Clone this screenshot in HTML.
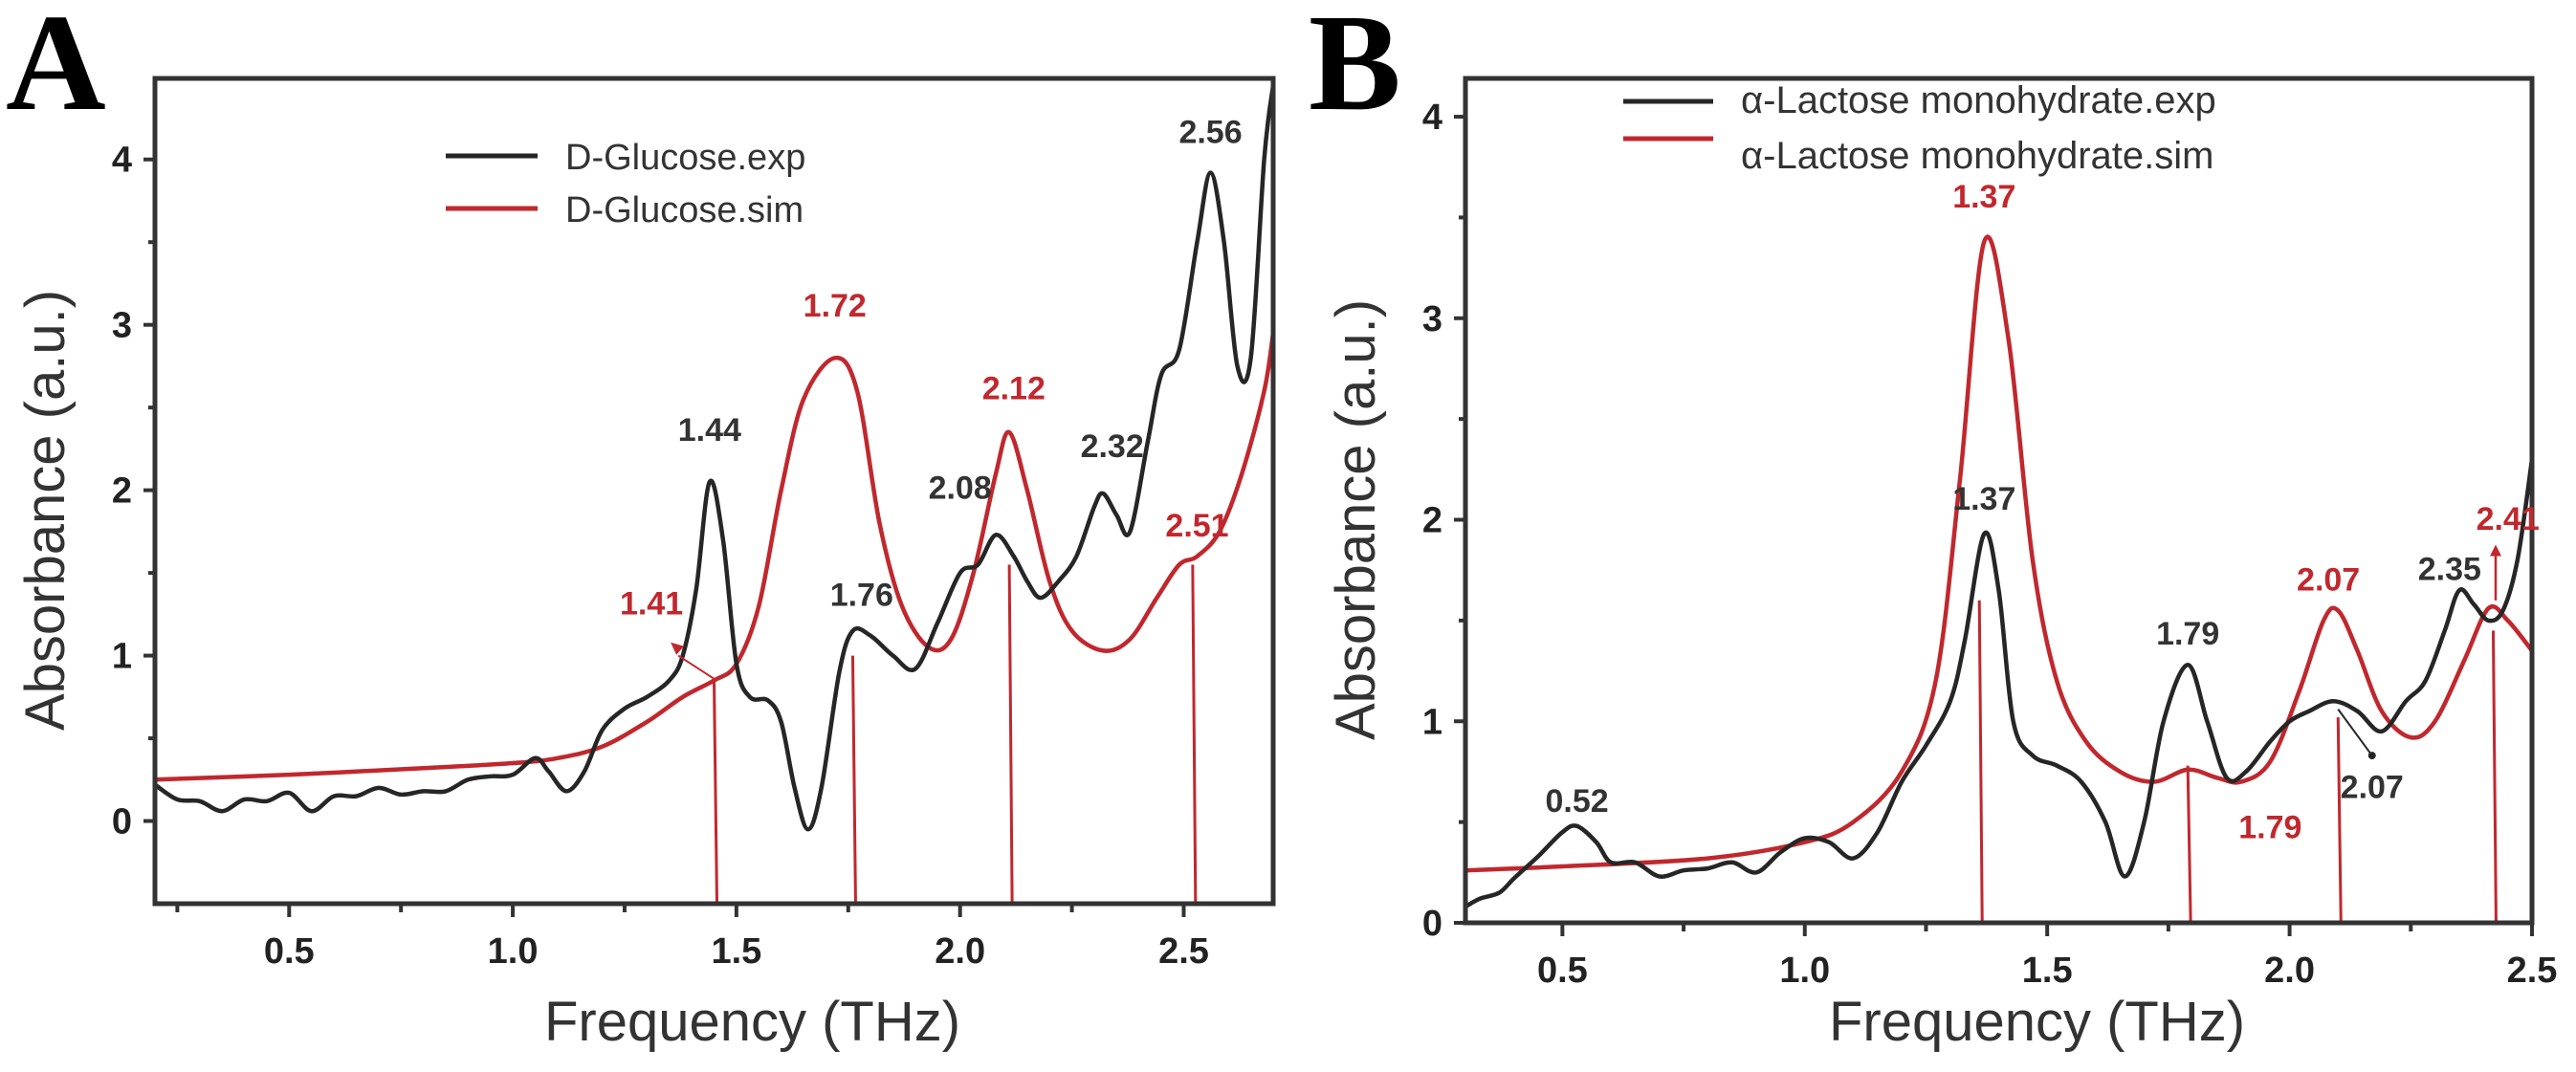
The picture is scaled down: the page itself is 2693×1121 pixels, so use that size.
<!DOCTYPE html>
<html><head><meta charset="utf-8"><style>
html,body{margin:0;padding:0;background:#fff;}
svg{display:block;}
text{font-family:"Liberation Sans",sans-serif;}
text.letter{font-family:"Liberation Serif",serif;}
</style></head><body>
<svg id="fig" width="2693" height="1121" viewBox="0 0 2693 1121" xmlns="http://www.w3.org/2000/svg"></svg>
<script>
// ---- Panel A data ----
const aExpX = [0.2,0.25,0.3,0.35,0.4,0.45,0.5,0.55,0.6,0.65,0.7,0.75,0.8,0.85,0.9,0.95,1.0,1.05,1.08,1.12,1.16,1.2,1.25,1.3,1.35,1.38,1.41,1.44,1.47,1.5,1.53,1.57,1.6,1.63,1.66,1.69,1.73,1.76,1.8,1.85,1.9,1.95,2.0,2.04,2.08,2.12,2.15,2.18,2.22,2.26,2.3,2.32,2.35,2.38,2.42,2.45,2.49,2.53,2.56,2.59,2.62,2.65,2.68,2.7];
const aExpY = [0.22,0.13,0.12,0.06,0.13,0.12,0.17,0.06,0.15,0.15,0.2,0.16,0.18,0.18,0.25,0.27,0.28,0.38,0.3,0.18,0.3,0.55,0.68,0.75,0.85,1.0,1.4,2.05,1.7,0.95,0.75,0.73,0.6,0.2,-0.05,0.2,0.9,1.15,1.12,1.0,0.92,1.2,1.5,1.55,1.73,1.6,1.45,1.35,1.45,1.6,1.9,1.98,1.85,1.75,2.3,2.7,2.85,3.5,3.92,3.5,2.75,2.8,4.0,4.45];
const aSimX = [0.2,0.5,0.8,1.0,1.1,1.2,1.3,1.38,1.45,1.5,1.55,1.6,1.65,1.72,1.77,1.82,1.87,1.93,1.98,2.03,2.08,2.11,2.15,2.2,2.25,2.32,2.38,2.44,2.49,2.53,2.58,2.63,2.68,2.7];
const aSimY = [0.25,0.28,0.32,0.35,0.38,0.45,0.6,0.75,0.85,0.95,1.3,2.0,2.55,2.8,2.6,1.8,1.3,1.05,1.1,1.5,2.1,2.35,2.0,1.45,1.15,1.03,1.1,1.35,1.55,1.6,1.75,2.1,2.6,2.95];
const aStickX = [1.45,1.76,2.11,2.52];
const aStickTop = [0.85,1.0,1.55,1.55];
const aBlackLabels = ["1.44","1.76","2.08","2.32","2.56"];
const aBlackLX = [1.44,1.78,2.0,2.34,2.56];
const aBlackLY = [2.3,1.3,1.95,2.2,4.1];
const aRedLabels = ["1.72","2.12","1.41","2.51"];
const aRedLX = [1.72,2.12,1.31,2.53];
const aRedLY = [3.05,2.55,1.25,1.72];
const aXTicks = ["0.5","1.0","1.5","2.0","2.5"];
const aYTicks = ["0","1","2","3","4"];
// ---- Panel B data ----
const bExpX = [0.3,0.33,0.37,0.4,0.45,0.5,0.53,0.57,0.6,0.65,0.7,0.75,0.8,0.85,0.9,0.95,1.0,1.05,1.1,1.15,1.2,1.25,1.3,1.33,1.37,1.4,1.43,1.47,1.52,1.57,1.62,1.66,1.7,1.74,1.79,1.83,1.87,1.91,1.96,2.0,2.04,2.09,2.14,2.19,2.24,2.28,2.32,2.35,2.38,2.41,2.44,2.47,2.5];
const bExpY = [0.08,0.12,0.15,0.22,0.33,0.45,0.48,0.4,0.3,0.3,0.23,0.26,0.27,0.3,0.25,0.35,0.42,0.4,0.32,0.45,0.7,0.88,1.1,1.4,1.93,1.65,1.0,0.83,0.78,0.7,0.5,0.23,0.5,1.0,1.28,1.0,0.72,0.75,0.9,1.0,1.05,1.1,1.05,0.95,1.1,1.2,1.45,1.65,1.58,1.5,1.55,1.8,2.3];
const bSimX = [0.3,0.5,0.8,1.0,1.1,1.2,1.27,1.32,1.37,1.42,1.47,1.52,1.58,1.65,1.72,1.79,1.85,1.9,1.96,2.02,2.07,2.1,2.14,2.19,2.25,2.3,2.36,2.41,2.45,2.5];
const bSimY = [0.26,0.28,0.32,0.4,0.5,0.75,1.2,2.2,3.38,2.9,1.8,1.2,0.9,0.75,0.7,0.76,0.72,0.7,0.8,1.15,1.5,1.55,1.35,1.05,0.92,1.0,1.3,1.56,1.5,1.35];
const bStickX = [1.36,1.79,2.1,2.42];
const bStickTop = [1.6,0.78,1.02,1.45];
const bBlackLabels = ["0.52","1.37","1.79","2.35","2.07"];
const bBlackLX = [0.53,1.37,1.79,2.33,2.17];
const bBlackLY = [0.55,2.05,1.38,1.7,0.62];
const bRedLabels = ["1.37","2.07","1.79","2.41"];
const bRedLX = [1.37,2.08,1.96,2.45];
const bRedLY = [3.55,1.65,0.42,1.95];
const bXTicks = ["0.5","1.0","1.5","2.0","2.5"];
const bYTicks = ["0","1","2","3","4"];

const NS = "http://www.w3.org/2000/svg";
const svg = document.getElementById("fig");
const BLACK = "#262626", RED = "#c0282e";
function el(tag, attrs, parent){const e=document.createElementNS(NS,tag);for(const k in attrs)e.setAttribute(k,attrs[k]);(parent||svg).appendChild(e);return e;}
function smooth(pts){let d="M"+pts[0][0].toFixed(1)+","+pts[0][1].toFixed(1);
  for(let i=0;i<pts.length-1;i++){const p0=pts[i-1]||pts[i],p1=pts[i],p2=pts[i+1],p3=pts[i+2]||p2;
    const c1=[p1[0]+(p2[0]-p0[0])/6,p1[1]+(p2[1]-p0[1])/6],c2=[p2[0]-(p3[0]-p1[0])/6,p2[1]-(p3[1]-p1[1])/6];
    d+=" C"+c1[0].toFixed(1)+","+c1[1].toFixed(1)+" "+c2[0].toFixed(1)+","+c2[1].toFixed(1)+" "+p2[0].toFixed(1)+","+p2[1].toFixed(1);}
  return d;}

function panel(cfg){
  const g = el("g",{});
  
  
  const X = v => cfg.x0 + (v - cfg.xmin) / (cfg.xmax - cfg.xmin) * (cfg.x1 - cfg.x0);
  const Y = v => cfg.y1 - (v - cfg.ymin) / (cfg.ymax - cfg.ymin) * (cfg.y1 - cfg.y0);
  const cid = cfg.name + "-clip";
  const defs = el("defs",{},g);
  const cp = el("clipPath",{id:cid},defs);
  el("rect",{x:cfg.x0,y:cfg.y0,width:cfg.x1-cfg.x0,height:cfg.y1-cfg.y0},cp);
  const plot = el("g",{"clip-path":"url(#"+cid+")"},g);
  cfg.stickX.forEach((sx,i)=>{
    const l = el("line",{x1:X(sx),y1:Y(cfg.stickTop[i]),x2:X(sx)+3,y2:cfg.y1,stroke:RED,"stroke-width":3},plot);
    
    
  });
  const sim = el("path",{d:smooth(cfg.simX.map((v,i)=>[X(v),Y(cfg.simY[i])])),fill:"none",stroke:RED,"stroke-width":4.5},plot);
  
  
  const exp = el("path",{d:smooth(cfg.expX.map((v,i)=>[X(v),Y(cfg.expY[i])])),fill:"none",stroke:BLACK,"stroke-width":4.5},plot);
  
  
  const fr = el("rect",{x:cfg.x0,y:cfg.y0,width:cfg.x1-cfg.x0,height:cfg.y1-cfg.y0,fill:"none",stroke:"#333","stroke-width":5},g);
  
  
  cfg.xTicks.forEach(t=>{const v=parseFloat(t);
    el("line",{x1:X(v),y1:cfg.y1,x2:X(v),y2:cfg.y1+14,stroke:"#333","stroke-width":4},g);
    if(v-0.25>cfg.xmin) el("line",{x1:X(v-0.25),y1:cfg.y1,x2:X(v-0.25),y2:cfg.y1+9,stroke:"#333","stroke-width":4},g);
    const tx = el("text",{x:X(v),y:cfg.y1+62,"text-anchor":"middle","font-size":38,"font-weight":"bold",fill:"#222"},g);
    tx.textContent=t;
    
    
  });
  cfg.yTicks.forEach(t=>{const v=parseFloat(t);
    el("line",{x1:cfg.x0-12,y1:Y(v),x2:cfg.x0,y2:Y(v),stroke:"#333","stroke-width":4},g);
    if(v+0.5<cfg.ymax) el("line",{x1:cfg.x0-7,y1:Y(v+0.5),x2:cfg.x0,y2:Y(v+0.5),stroke:"#333","stroke-width":4},g);
    const ty = el("text",{x:cfg.x0-24,y:Y(v)+13,"text-anchor":"end","font-size":38,"font-weight":"bold",fill:"#222"},g);
    ty.textContent=t;
    
    
  });
  cfg.blackL.forEach((t,i)=>{
    const a = el("text",{x:X(cfg.blackLX[i]),y:Y(cfg.blackLY[i]),"text-anchor":"middle","font-size":34,"font-weight":"bold",fill:"#333"},g);
    a.textContent=t;
    
    
  });
  cfg.redL.forEach((t,i)=>{
    const a = el("text",{x:X(cfg.redLX[i]),y:Y(cfg.redLY[i]),"text-anchor":"middle","font-size":34,"font-weight":"bold",fill:RED},g);
    a.textContent=t;
    
    
  });
  const xt = el("text",{x:(cfg.x0+cfg.x1)/2+40,y:1088,"text-anchor":"middle","font-size":58,fill:"#333"},g);
  xt.textContent="Frequency (THz)";
  
  
  const yx = cfg.x0-95, yy = (cfg.y0+cfg.y1)/2+20;
  const yt = el("text",{x:yx,y:yy,"text-anchor":"middle","font-size":58,fill:"#333",transform:"rotate(-90 "+yx+" "+yy+")"},g);
  yt.textContent="Absorbance (a.u.)";
  
  
  const pl = el("text",{x:cfg.letterX,y:114,"class":"letter","font-size":145,"font-weight":"bold",fill:"#000"},g);
  pl.textContent=cfg.letter;
  
  
  const lg = el("g",{},g);
  
  
  [[BLACK,cfg.leg[0],cfg.legY[0],cfg.legTY[0]],[RED,cfg.leg[1],cfg.legY[1],cfg.legTY[1]]].forEach(r=>{
    el("line",{x1:cfg.legX,y1:r[2],x2:cfg.legX+cfg.legLen,y2:r[2],stroke:r[0],"stroke-width":5},lg);
    const t = el("text",{x:cfg.legTX,y:r[3],"font-size":cfg.legFont,fill:"#333"},lg);
    t.textContent=r[1];
    
    
  });
  return {X,Y,g};
}

const A = panel({name:"panel-a",x0:162,x1:1331,y0:82,y1:945,xmin:0.2,xmax:2.7,ymin:-0.5,ymax:4.49,
  expX:aExpX,expY:aExpY,simX:aSimX,simY:aSimY,stickX:aStickX,stickTop:aStickTop,
  blackL:aBlackLabels,blackLX:aBlackLX,blackLY:aBlackLY,redL:aRedLabels,redLX:aRedLX,redLY:aRedLY,
  xTicks:aXTicks,yTicks:aYTicks,letter:"A",letterX:6,
  leg:["D-Glucose.exp","D-Glucose.sim"],legX:466,legLen:96,legY:[163,218],legTX:591,legTY:[177,232],legFont:38});
el("line",{x1:A.X(1.37),y1:A.Y(1.0),x2:A.X(1.45),y2:A.Y(0.86),stroke:RED,"stroke-width":2},A.g);
el("path",{d:"M"+(A.X(1.37)-8)+","+(A.Y(1.08))+" l14,4 l-8,9 z",fill:RED},A.g);

const B = panel({name:"panel-b",x0:1532,x1:2647,y0:82,y1:965,xmin:0.3,xmax:2.5,ymin:0,ymax:4.19,
  expX:bExpX,expY:bExpY,simX:bSimX,simY:bSimY,stickX:bStickX,stickTop:bStickTop,
  blackL:bBlackLabels,blackLX:bBlackLX,blackLY:bBlackLY,redL:bRedLabels,redLX:bRedLX,redLY:bRedLY,
  xTicks:bXTicks,yTicks:bYTicks,letter:"B",letterX:1368,
  leg:["α-Lactose monohydrate.exp","α-Lactose monohydrate.sim"],legX:1697,legLen:94,legY:[106,145],legTX:1820,legTY:[118,176],legFont:40});
el("line",{x1:B.X(2.1),y1:B.Y(1.06),x2:B.X(2.17),y2:B.Y(0.83),stroke:BLACK,"stroke-width":2},B.g);
el("circle",{cx:B.X(2.17),cy:B.Y(0.83),r:4,fill:BLACK},B.g);
el("line",{x1:B.X(2.425),y1:B.Y(1.6),x2:B.X(2.425),y2:B.Y(1.85),stroke:RED,"stroke-width":2.5},B.g);
el("path",{d:"M"+(B.X(2.425)-6)+","+(B.Y(1.82))+" l6,-12 l6,12 z",fill:RED},B.g);
</script>
</body></html>
